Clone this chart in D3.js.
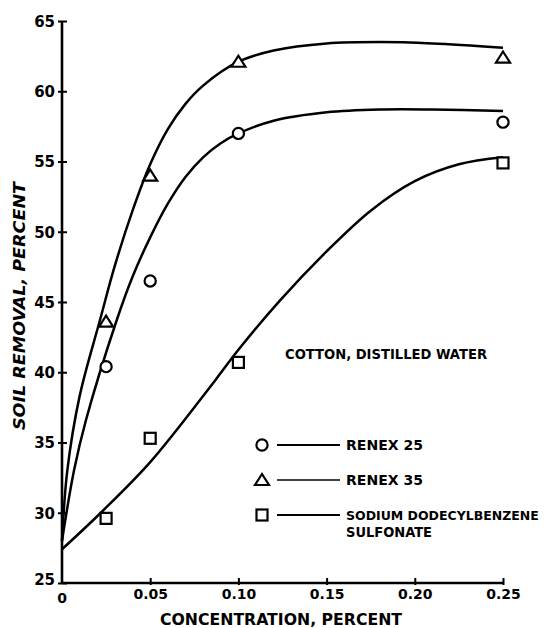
<!DOCTYPE html>
<html>
<head>
<meta charset="utf-8">
<script src="https://cdn.jsdelivr.net/npm/d3@7"></script>
<style>
  html, body { margin: 0; padding: 0; background: #fff; }
  svg { display: block; }
  text { font-family: "DejaVu Sans", "Liberation Sans", sans-serif; font-weight: bold; fill: #000; }
</style>
</head>
<body>
<svg id="chart" width="549" height="628"></svg>
<script>
// ---- Data ----
const concentrations = [0.025, 0.05, 0.10, 0.25];
const renex25 = [40.4, 46.5, 57.0, 57.8];
const renex35 = [43.6, 54.0, 62.1, 62.4];
const sdbs    = [29.6, 35.3, 40.7, 54.9];

// hand-drawn fitted curves (x, y)
const renex25CurveX = [0, 0.0068, 0.0136, 0.031, 0.04, 0.05, 0.06, 0.07, 0.08, 0.09, 0.10, 0.12, 0.15, 0.18, 0.21, 0.25];
const renex25CurveY = [28.0, 33.0, 36.6, 43.7, 46.8, 49.6, 52.0, 53.9, 55.3, 56.3, 57.0, 57.9, 58.5, 58.7, 58.7, 58.6];
const renex35CurveX = [0, 0.003, 0.01, 0.0215, 0.03, 0.04, 0.05, 0.06, 0.07, 0.08, 0.10, 0.12, 0.15, 0.18, 0.21, 0.25];
const renex35CurveY = [28.0, 33.0, 38.3, 43.7, 47.6, 51.5, 54.8, 57.3, 59.1, 60.4, 62.1, 62.9, 63.4, 63.5, 63.4, 63.1];
const sdbsCurveX = [0, 0.022, 0.05, 0.0867, 0.10, 0.1235, 0.15, 0.175, 0.20, 0.225, 0.25];
const sdbsCurveY = [27.4, 30.0, 33.6, 39.4, 41.6, 45.1, 48.6, 51.5, 53.6, 54.8, 55.3];

const xTicks = [0, 0.05, 0.10, 0.15, 0.20, 0.25];
const xTickLabels = ["0", "0.05", "0.10", "0.15", "0.20", "0.25"];
const yTicks = [25, 30, 35, 40, 45, 50, 55, 60, 65];

const legendLabels = ["RENEX 25", "RENEX 35", "SODIUM DODECYLBENZENE"];
const legendLabel2 = "SULFONATE";
const noteText = "COTTON, DISTILLED WATER";
const xTitle = "CONCENTRATION, PERCENT";
const yTitle = "SOIL REMOVAL, PERCENT";

// ---- Drawing ----
const svg = d3.select("#chart");
const x = d3.scaleLinear().domain([0, 0.25]).range([62, 503]);
const y = d3.scaleLinear().domain([25, 65]).range([583, 21]);

// axes
const yAxis = d3.axisLeft(y).tickValues(yTicks).tickSize(4).tickPadding(3).tickFormat(d3.format("d"));
const gy = svg.append("g").attr("transform", `translate(${x(0)},0)`).call(yAxis);
gy.select(".domain").remove();
gy.selectAll(".tick line").attr("stroke", "#000").attr("stroke-width", 2);
gy.selectAll(".tick").append("line").attr("x1", 0).attr("x2", 5).attr("stroke", "#000").attr("stroke-width", 2);
gy.selectAll(".tick text").style("font-size", "15px").attr("font-family", null).attr("dy", "0.36em");
gy.selectAll(".tick").filter(d => d === 25).select("text").attr("dy", "0.1em");

const xAxis = d3.axisBottom(x).tickValues(xTicks).tickSize(2).tickPadding(4)
  .tickFormat((d, i) => xTickLabels[i]);
const gx = svg.append("g").attr("transform", `translate(0,${y(25)})`).call(xAxis);
gx.select(".domain").remove();
gx.selectAll(".tick line").attr("stroke", "#000").attr("stroke-width", 2);
gx.selectAll(".tick").append("line").attr("y1", 0).attr("y2", -5).attr("stroke", "#000").attr("stroke-width", 2);
gx.selectAll(".tick text").style("font-size", "14px").attr("font-family", null);
gx.selectAll(".tick").filter(d => d === 0).remove();
svg.append("text").attr("x", x(0)).attr("y", 603).attr("text-anchor", "middle")
  .style("font-size", "14px").text(xTickLabels[0]);

// axis lines
svg.append("line").attr("x1", x(0)).attr("x2", x(0)).attr("y1", y(65)).attr("y2", y(25))
  .attr("stroke", "#000").attr("stroke-width", 2.6);
svg.append("line").attr("x1", x(0)).attr("x2", x(0.25)).attr("y1", y(25)).attr("y2", y(25))
  .attr("stroke", "#000").attr("stroke-width", 2.6);

// titles
svg.append("text").attr("x", 160).attr("y", 625)
  .attr("textLength", 242).attr("lengthAdjust", "spacingAndGlyphs")
  .style("font-size", "15px").text(xTitle);
svg.append("text").attr("transform", "translate(25,306) rotate(-90)")
  .attr("text-anchor", "middle").attr("font-style", "italic")
  .attr("textLength", 248).attr("lengthAdjust", "spacingAndGlyphs")
  .style("font-size", "16px").text(yTitle);

// curves
const line = d3.line().x(d => x(d[0])).y(d => y(d[1])).curve(d3.curveCatmullRom.alpha(0.5));
const curves = [
  d3.zip(renex35CurveX, renex35CurveY),
  d3.zip(renex25CurveX, renex25CurveY),
  d3.zip(sdbsCurveX, sdbsCurveY)
];
curves.forEach(c => {
  svg.append("path").attr("d", line(c)).attr("fill", "none")
    .attr("stroke", "#000").attr("stroke-width", 2.5).attr("stroke-linejoin", "round");
});

// markers
function circleMark(g, cx, cy) {
  g.append("circle").attr("cx", cx).attr("cy", cy).attr("r", 5.6)
    .attr("fill", "#fff").attr("stroke", "#000").attr("stroke-width", 2.2);
}
function triMark(g, cx, cy) {
  const p = d3.path();
  p.moveTo(cx, cy - 6); p.lineTo(cx + 7, cy + 5); p.lineTo(cx - 7, cy + 5); p.closePath();
  g.append("path").attr("d", p.toString()).attr("fill", "#fff")
    .attr("stroke", "#000").attr("stroke-width", 2.2).attr("stroke-linejoin", "miter");
}
function sqMark(g, cx, cy) {
  g.append("rect").attr("x", cx - 5.5).attr("y", cy - 5.5).attr("width", 11).attr("height", 11)
    .attr("fill", "#fff").attr("stroke", "#000").attr("stroke-width", 2.2);
}
const gm = svg.append("g");
concentrations.forEach((c, i) => {
  circleMark(gm, x(c), y(renex25[i]));
  triMark(gm, x(c), y(renex35[i]));
  sqMark(gm, x(c), y(sdbs[i]));
});

// note
svg.append("text").attr("x", 285).attr("y", 359)
  .attr("textLength", 202).attr("lengthAdjust", "spacingAndGlyphs")
  .style("font-size", "14px").text(noteText);

// legend
const legY = [445, 480, 515];
const legMarks = [circleMark, triMark, sqMark];
const legWidths = [77, 77, null];
legY.forEach((ly, i) => {
  legMarks[i](svg, 262, ly);
  svg.append("line").attr("x1", 277).attr("x2", 340).attr("y1", ly).attr("y2", ly)
    .attr("stroke", "#000").attr("stroke-width", i === 1 ? 1.6 : 2);
  const t = svg.append("text").attr("x", 346).attr("y", ly + 5)
    .style("font-size", i === 2 ? "12.5px" : "14px").text(legendLabels[i]);
  if (legWidths[i]) t.attr("textLength", legWidths[i]).attr("lengthAdjust", "spacingAndGlyphs");
});
svg.append("text").attr("x", 346).attr("y", 537)
  .attr("textLength", 86).attr("lengthAdjust", "spacingAndGlyphs")
  .style("font-size", "14px").text(legendLabel2);
</script>
</body>
</html>
